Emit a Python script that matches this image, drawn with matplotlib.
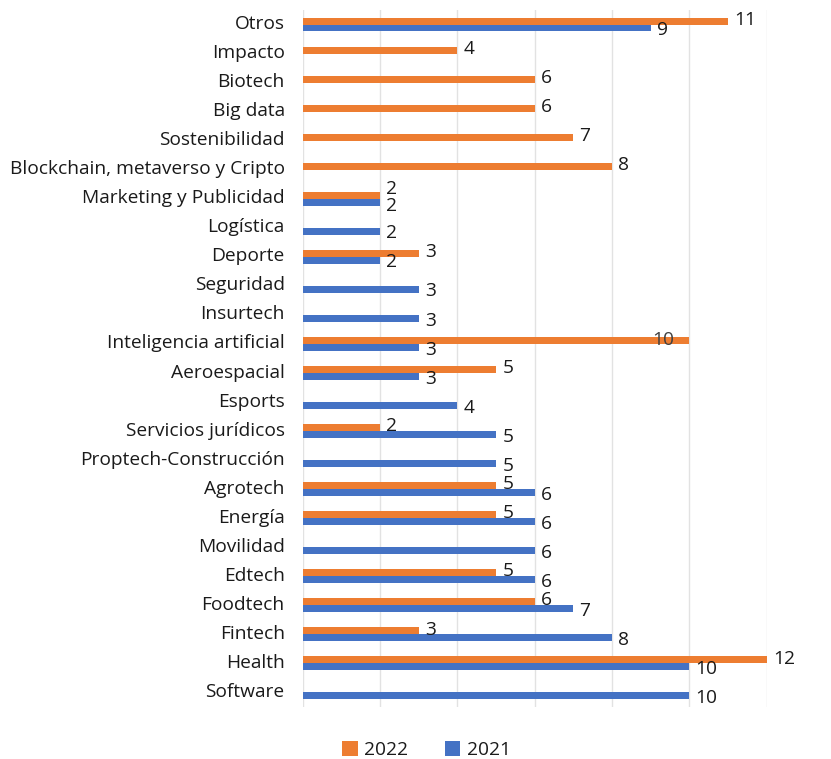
import matplotlib
matplotlib.use("Agg")
import matplotlib.pyplot as plt
from matplotlib.patches import Patch
from matplotlib.transforms import ScaledTranslation
import numpy as np

plt.rcParams['font.family'] = ['Open Sans', 'DejaVu Sans']

categories = ["Otros", "Impacto", "Biotech", "Big data", "Sostenibilidad",
              "Blockchain, metaverso y Cripto", "Marketing y Publicidad", "Logística",
              "Deporte", "Seguridad", "Insurtech", "Inteligencia artificial",
              "Aeroespacial", "Esports", "Servicios jurídicos", "Proptech-Construcción",
              "Agrotech", "Energía", "Movilidad", "Edtech", "Foodtech", "Fintech",
              "Health", "Software"]
values_2022 = [11, 4, 6, 6, 7, 8, 2, 0, 3, 0, 0, 10, 5, 0, 2, 0, 5, 5, 0, 5, 6, 3, 12, 0]
values_2021 = [9, 0, 0, 0, 0, 0, 2, 2, 2, 3, 3, 3, 3, 4, 5, 5, 6, 6, 6, 6, 7, 8, 10, 10]
series_names = ["2022", "2021"]
x_ticks = [0, 2, 4, 6, 8, 10, 12]

C22 = "#ED7D31"
C21 = "#4472C4"
TXT = "#1a1a1a"
FS = 13.8

fig = plt.figure(figsize=(8.31, 7.59), dpi=100)
ax = fig.add_axes([302.7 / 831, 52 / 759, 464 / 831, 697 / 759])

y = np.arange(len(categories))
h = 0.24
v22 = np.array(values_2022, dtype=float)
v21 = np.array(values_2021, dtype=float)

for vals, off, col, dy in ((v22, -h / 2, C22, 1.0), (v21, h / 2, C21, -1.5)):
    for i, v in enumerate(vals):
        if v <= 0:
            continue
        ax.barh(y[i] + off, v, height=h, color=col, edgecolor='none', zorder=3)
        if col == C22 and categories[i] == "Inteligencia artificial":
            ax.annotate(f"{int(v)}", xy=(v, y[i] + off), xytext=(-11, 0),
                        textcoords='offset points', ha='right', va='center',
                        fontsize=FS, color='#404040', zorder=4)
        else:
            d = dy
            if categories[i] == "Marketing y Publicidad":
                d = 4.5 if col == C22 else -2.5
            ax.annotate(f"{int(v)}", xy=(v, y[i] + off), xytext=(4.5, d),
                        textcoords='offset points', ha='left', va='center',
                        fontsize=FS, color=TXT, zorder=4)

ax.set_xlim(0, 12)
ax.set_ylim(len(categories) - 0.5, -0.5)
ax.set_yticks(y)
ax.set_yticklabels(categories, fontsize=FS, color=TXT)
ax.tick_params(axis='y', length=0, pad=13)
shift = ScaledTranslation(0, 2.5 / 100, fig.dpi_scale_trans)
for lbl in ax.get_yticklabels():
    lbl.set_transform(lbl.get_transform() + shift)
ax.set_xticks(x_ticks)
ax.tick_params(axis='x', length=0, labelbottom=False)
ax.grid(axis='x', color='#E2E2E2', linewidth=1, zorder=0)
ax.set_axisbelow(True)
for s in ax.spines.values():
    s.set_visible(False)

handles = [Patch(facecolor=C22, edgecolor='none'), Patch(facecolor=C21, edgecolor='none')]
fig.legend(handles, series_names, loc='center', bbox_to_anchor=(426.5 / 831, 1 - 750 / 759),
           ncol=2, frameon=False, fontsize=FS, handlelength=0.8, handleheight=0.8,
           handletextpad=0.35, columnspacing=1.9, labelcolor=TXT)

fig.savefig("out.png", dpi=100)
